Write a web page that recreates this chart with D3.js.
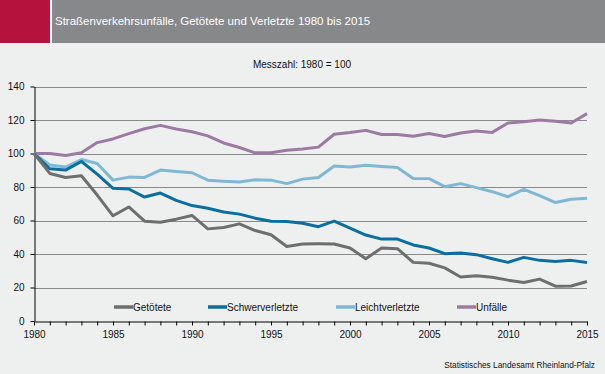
<!DOCTYPE html>
<html><head><meta charset="utf-8">
<script src="https://cdn.jsdelivr.net/npm/d3@7"></script>
<style>
html,body{margin:0;padding:0;background:#eef0ef;}
svg{display:block;font-family:"Liberation Sans",Arial,sans-serif;}
</style></head>
<body>
<svg id="c" width="605" height="374"></svg>
<script>
const years = d3.range(1980, 2016);
const getoetete = [100,88.1,85.7,86.7,75.2,62.8,68.1,59.6,59.0,60.8,63.0,55.0,55.8,58.0,54.0,51.5,44.5,46.0,46.1,46.0,43.6,37.2,43.6,43.2,35.0,34.5,31.7,26.3,27.0,26.1,24.4,23.0,25.0,20.8,20.9,23.6];
const schwerverletzte = [100,90.9,90.1,95.2,87.7,79.2,78.8,74.0,76.4,72.0,68.9,67.3,65.1,63.8,61.4,59.6,59.4,58.4,56.3,59.6,55.5,51.3,48.9,48.9,45.4,43.6,40.2,40.6,39.6,37.2,35.0,38.0,36.2,35.5,36.2,34.9];
const leichtverletzte = [100,93.2,91.9,96.4,94.0,84.1,85.9,85.7,90.1,89.2,88.5,84.1,83.5,83.0,84.3,84.1,82.0,84.7,85.7,92.5,92.0,93.0,92.3,91.7,85.1,85.0,80.2,82.0,79.6,77.2,74.2,78.6,74.8,70.7,72.7,73.3];
const unfaelle = [100,100,98.8,100.4,106.5,108.7,111.9,114.8,116.8,114.6,113.0,110.5,106.3,103.6,100.4,100.4,102.0,102.7,103.8,111.5,112.5,113.8,111.3,111.3,110.3,111.9,110.1,112.2,113.4,112.6,118.2,119.0,120.0,119.2,118.2,123.8];
const seriesNames = ["Getötete","Schwerverletzte","Leichtverletzte","Unfälle"];
const seriesColors = ["#6e6e6e","#0a6fa0","#7fb8d5","#9d7aa4"];
const yTicks = [0,20,40,60,80,100,120,140];
const xLabelYears = [1980,1985,1990,1995,2000,2005,2010,2015];
const titleText = "Straßenverkehrsunfälle, Getötete und Verletzte 1980 bis 2015";
const subtitleText = "Messzahl: 1980 = 100";
const sourceText = "Statistisches Landesamt Rheinland-Pfalz";

const svg = d3.select("#c");
// header
svg.append("rect").attr("x",0).attr("y",0).attr("width",50).attr("height",43).attr("fill","#b5123e");
svg.append("rect").attr("x",50).attr("y",0).attr("width",2).attr("height",43).attr("fill","#ffffff");
svg.append("rect").attr("x",52).attr("y",0).attr("width",553).attr("height",43).attr("fill","#87888a");
svg.append("text").attr("x",55).attr("y",25).attr("fill","#ffffff").attr("font-size",11.5).text(titleText);
svg.append("text").attr("x",302).attr("y",68).attr("text-anchor","middle").attr("fill","#111").attr("font-size",10).text(subtitleText);

const x = d3.scaleLinear().domain([1980,2015]).range([34,587]);
const y = d3.scaleLinear().domain([0,140]).range([321,86.5]);

// gridlines
svg.append("g").selectAll("line").data(yTicks.filter(d=>d>0)).join("line")
  .attr("x1",34).attr("x2",587).attr("y1",d=>Math.round(y(d))+0.5).attr("y2",d=>Math.round(y(d))+0.5)
  .attr("stroke","#8a8a8a").attr("stroke-width",1);

// y axis
const yAxis = svg.append("g").attr("transform","translate(34.5,0)")
  .call(d3.axisLeft(y).tickValues(yTicks).tickSize(4).tickSizeOuter(0).tickPadding(6).tickFormat(d3.format("d")));
yAxis.select(".domain").attr("stroke","#000");
yAxis.selectAll(".tick line").attr("stroke","#000");
yAxis.selectAll("text").attr("font-size",10).attr("fill","#111").attr("font-family","Liberation Sans, Arial, sans-serif");

// x axis
const xAxis = svg.append("g").attr("transform","translate(0,321.5)")
  .call(d3.axisBottom(x).tickValues(years).tickSize(4).tickSizeOuter(0).tickPadding(5)
    .tickFormat(d => xLabelYears.includes(d) ? String(d) : ""));
xAxis.select(".domain").attr("stroke","#000");
xAxis.selectAll(".tick line").attr("stroke","#000");
xAxis.selectAll("text").attr("font-size",10).attr("fill","#111").attr("font-family","Liberation Sans, Arial, sans-serif");

// lines
const data = [getoetete, schwerverletzte, leichtverletzte, unfaelle];
const line = d3.line().x((d,i)=>x(years[i])).y(d=>y(d));
// draw order: Unfälle, Leicht, Schwer, Getötete on top? draw in reverse
[3,2,1,0].forEach(k=>{
  svg.append("path").datum(data[k]).attr("d",line).attr("fill","none")
    .attr("stroke",seriesColors[k]).attr("stroke-width",3).attr("stroke-linejoin","round");
});

// legend
const legendX = [114,208,336,457];
seriesNames.forEach((n,k)=>{
  const g = svg.append("g").attr("transform",`translate(${legendX[k]},307)`);
  g.append("line").attr("x1",0).attr("x2",19).attr("y1",0).attr("y2",0).attr("stroke",seriesColors[k]).attr("stroke-width",3.5);
  g.append("text").attr("x",19).attr("y",3.5).attr("font-size",10).attr("fill","#111").text(n);
});

// source
svg.append("text").attr("x",595).attr("y",368).attr("text-anchor","end").attr("font-size",8.3).attr("fill","#111").text(sourceText);
</script>
</body></html>
